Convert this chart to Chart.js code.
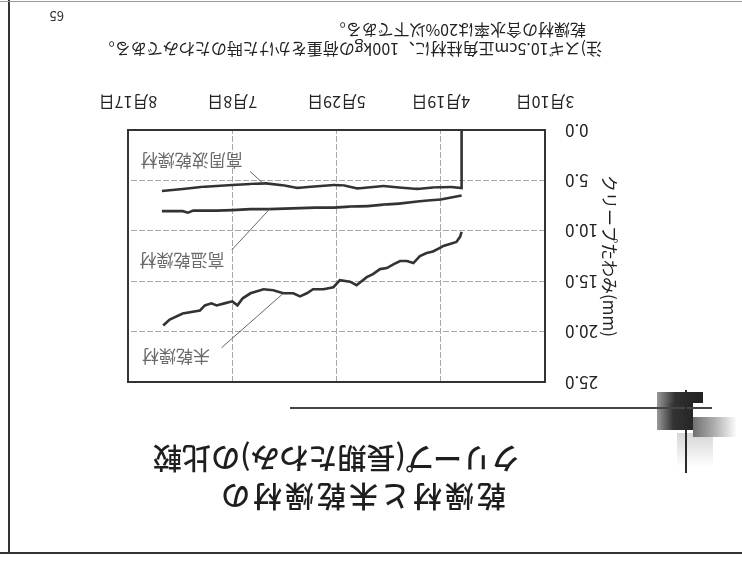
<!DOCTYPE html>
<html lang="ja">
<head>
<meta charset="utf-8">
<title>乾燥材と未乾燥材のクリープ</title>
<script src="https://cdn.jsdelivr.net/npm/chart.js@4.4.1/dist/chart.umd.min.js"></script>
<style>
  html, body { margin: 0; padding: 0; background: #fff; }
  #page {
    position: relative;
    width: 742px;
    height: 563px;
    overflow: hidden;
    background: #fff;
    transform: rotate(180deg);
    font-family: "Noto Sans CJK JP", sans-serif;
    color: #222;
  }
  #page > div, #page > canvas { position: absolute; }
  .title { font-size: 29px; line-height: 32px; font-weight: 500; white-space: nowrap; color: #1e1e1e; }
  .note { font-size: 16px; line-height: 18px; white-space: nowrap; color: #222; }
</style>
</head>
<body>
<div id="page">
  <!-- slide frame -->
  <div style="left:0; top:9px; width:742px; height:2px; background:#333;"></div>
  <div style="left:732px; top:9px; width:2px; height:554px; background:#333;"></div>
  <div style="left:0; top:561px; width:742px; height:1px; background:#999;"></div>

  <!-- corner ornament -->
  <div style="left:29px; top:96px; width:36px; height:34px; background:linear-gradient(to top, #d6d6d6, rgba(255,255,255,0));"></div>
  <div style="left:5px; top:126px; width:44px; height:20px; background:linear-gradient(to right, rgba(255,255,255,0) 0%, #b0b0b0 50%, #707070 100%);"></div>
  <div style="left:49px; top:133px; width:36px; height:28px; background:linear-gradient(to right, #262626 0%, #333 55%, #9a9a9a 100%);"></div>
  <div style="left:39px; top:160px; width:46px; height:11px; background:linear-gradient(to right, #222 0%, #303030 60%, #999 100%);"></div>
  <div style="left:30px; top:154px; width:422px; height:2px; background:#444;"></div>
  <div style="left:55px; top:90px; width:2px; height:83px; background:#2a2a2a;"></div>

  <div class="title" style="left:236px; top:49px; letter-spacing:3px;">乾燥材と未乾燥材の</div>
  <div class="title" style="left:222px; top:87px;">クリープ(長期たわみ)の比較</div>

  <canvas id="creepChart" width="742" height="563" style="left:0; top:0;"></canvas>

  <div class="note" style="left:140px; top:504px;">注)スギ10.5cm正角柱材に、100kgの荷重をかけた時のたわみである。</div>
  <div class="note" style="left:156px; top:523px;">乾燥材の含水率は20%以下である。</div>
  <div style="left:678px; top:537px; font-size:13px; color:#333;">65</div>
</div>

<script>
// x axis: days after loading start (3/10), one tick every 40 days
const tickDates = ['3月10日', '4月19日', '5月29日', '7月8日', '8月17日'];

// 高周波乾燥材 (starts from 0 at loading)
const hfDays = [32, 32, 36, 43, 49, 56, 62, 68, 72, 77, 81, 86, 91, 95, 100, 107, 113, 120, 126, 132, 139, 147];
const hfMm   = [0, 5.75, 5.65, 5.7, 5.85, 5.7, 5.55, 5.7, 5.8, 5.5, 5.45, 5.55, 5.65, 5.75, 5.5, 5.3, 5.35, 5.45, 5.55, 5.65, 5.85, 6.05];

// 高温乾燥材
const htDays = [32, 36, 40, 45, 49, 56, 62, 68, 75, 81, 88, 94, 100, 106, 113, 120, 126, 131, 135, 137, 139, 143, 147];
const htMm   = [6.5, 6.7, 6.9, 7.0, 7.1, 7.3, 7.4, 7.55, 7.6, 7.7, 7.7, 7.75, 7.8, 7.85, 7.85, 7.95, 8.0, 8.0, 8.0, 8.2, 8.05, 8.05, 8.05];

// 未乾燥材
const gnDays = [32, 32.6, 34, 36.5, 39, 40.3, 43, 45.4, 48, 50.5, 53, 55.6, 58, 60.7, 63.3, 66, 68.4, 72.3, 74.8, 78.7, 81.2, 85, 89, 91.4, 94, 96.6, 100.4, 104.3, 108, 113, 116, 118, 120, 123, 126, 128, 130.5, 132.4, 139, 144, 146.5];
const gnMm   = [10.1, 10.6, 11.1, 11.3, 11.5, 11.7, 12.05, 12.2, 12.5, 13.2, 13.0, 13.0, 13.3, 13.7, 13.8, 14.3, 14.6, 15.4, 15.05, 14.9, 15.6, 15.8, 15.8, 16.2, 16.5, 16.2, 16.2, 15.9, 15.8, 16.2, 16.7, 17.4, 17.0, 17.2, 17.4, 17.2, 17.4, 17.9, 18.2, 18.8, 19.4];

const seriesNames = ['高周波乾燥材', '高温乾燥材', '未乾燥材'];

function toPoints(days, mm) {
  return days.map(function (d, i) { return { x: d, y: mm[i] }; });
}

// callout labels with leader lines, placed in data units
const callouts = [
  { text: seriesNames[0], x: 135.5, y: 3.0, from: [113.2, 4.1], to: [108.1, 5.3] },
  { text: seriesNames[1], x: 139.3, y: 12.9, from: [120.2, 11.9], to: [105.5, 7.8] },
  { text: seriesNames[2], x: 141.6, y: 22.5, from: [124.1, 21.6], to: [100.4, 16.2] }
];

const framePlugin = {
  id: 'frame',
  beforeDatasetsDraw: function (chart) {
    const a = chart.chartArea;
    const ctx = chart.ctx;
    ctx.save();
    ctx.strokeStyle = '#333';
    ctx.lineWidth = 2;
    ctx.strokeRect(a.left, a.top, a.right - a.left, a.bottom - a.top);
    ctx.restore();
  }
};

const calloutPlugin = {
  id: 'callouts',
  afterDatasetsDraw: function (chart) {
    const ctx = chart.ctx;
    const xs = chart.scales.x;
    const ys = chart.scales.y;
    ctx.save();
    callouts.forEach(function (c) {
      ctx.strokeStyle = '#666';
      ctx.lineWidth = 1;
      ctx.beginPath();
      ctx.moveTo(xs.getPixelForValue(c.from[0]), ys.getPixelForValue(c.from[1]));
      ctx.lineTo(xs.getPixelForValue(c.to[0]), ys.getPixelForValue(c.to[1]));
      ctx.stroke();
      ctx.fillStyle = '#6a6a6a';
      ctx.font = '17px "Noto Sans CJK JP"';
      ctx.textAlign = 'center';
      ctx.textBaseline = 'middle';
      ctx.fillText(c.text, xs.getPixelForValue(c.x), ys.getPixelForValue(c.y));
    });
    ctx.restore();
  }
};

const lineStyle = {
  borderColor: '#333',
  borderWidth: 2.6,
  pointRadius: 0,
  tension: 0,
  fill: false
};

new Chart(document.getElementById('creepChart'), {
  type: 'line',
  data: {
    datasets: [
      Object.assign({ label: seriesNames[0], data: toPoints(hfDays, hfMm) }, lineStyle),
      Object.assign({ label: seriesNames[1], data: toPoints(htDays, htMm) }, lineStyle),
      Object.assign({ label: seriesNames[2], data: toPoints(gnDays, gnMm) }, lineStyle)
    ]
  },
  options: {
    responsive: false,
    animation: false,
    layout: { padding: { left: 120, right: 128, top: 181, bottom: 90 } },
    plugins: { legend: { display: false }, tooltip: { enabled: false } },
    scales: {
      x: {
        type: 'linear',
        min: 0,
        max: 160,
        afterFit: function (scale) { scale.height = 40; },
        ticks: {
          stepSize: 40,
          padding: 18,
          maxRotation: 0,
          color: '#222',
          font: { family: '"Noto Sans CJK JP"', size: 16 },
          callback: function (v) { return tickDates[v / 40]; }
        },
        grid: { color: '#a8a8a8', lineWidth: 1, drawTicks: false },
        border: { display: false, dash: [6, 2] }
      },
      y: {
        min: 0,
        max: 25,
        afterFit: function (scale) { scale.width = 77; },
        ticks: {
          stepSize: 5,
          padding: 20,
          color: '#222',
          font: { family: '"Noto Sans CJK JP"', size: 17 },
          callback: function (v) { return v.toFixed(1); }
        },
        title: {
          display: true,
          text: 'クリープたわみ(mm)',
          color: '#222',
          padding: 2,
          font: { family: '"Noto Sans CJK JP"', size: 17 }
        },
        grid: { color: '#a8a8a8', lineWidth: 1, drawTicks: false },
        border: { display: false, dash: [6, 2] }
      }
    }
  },
  plugins: [framePlugin, calloutPlugin]
});
</script>
</body>
</html>
